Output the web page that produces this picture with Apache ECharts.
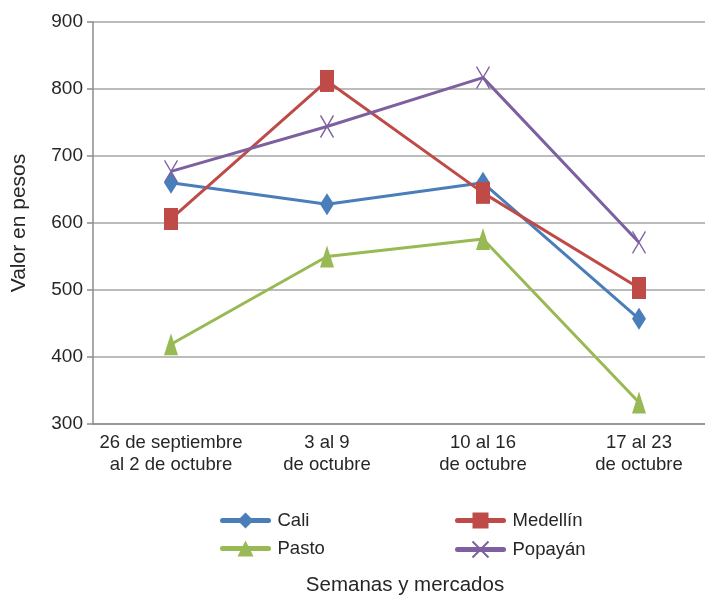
<!DOCTYPE html>
<html>
<head>
<meta charset="utf-8">
<script src="https://cdn.jsdelivr.net/npm/echarts@6/dist/echarts.min.js"></script>
<style>html,body{margin:0;padding:0;background:#fff}#c{width:705px;height:595px}</style>
</head>
<body>
<div id="c"></div>
<script>
var categories = ['26 de septiembre\nal 2 de octubre', '3 al 9\nde octubre', '10 al 16\nde octubre', '17 al 23\nde octubre'];
var cali = [660, 628, 660, 457];
var medellin = [606, 812, 645, 503];
var pasto = [419, 550, 576, 332];
var popayan = [677, 744, 817, 571];
var yTicks = {min: 300, max: 900, step: 100};

var font = 'Liberation Sans, Arial, sans-serif';
var txt = '#262626';
var grey = '#8c8c8c';
var xPath = 'path://M0,0L10,20M10,0L0,20';

function mk(name, data, color, symbol, size, extra) {
  var s = {
    name: name, type: 'line', data: data, symbol: symbol, symbolSize: size,
    lineStyle: {color: color, width: 3}, itemStyle: {color: color},
    animation: false, z: 3
  };
  if (extra) for (var k in extra) s[k] = extra[k];
  return s;
}

var legendText = {color: txt, fontFamily: font, fontSize: 18.5, padding: [0, 0, 0, 4]};

var chart = echarts.init(document.getElementById('c'));
chart.setOption({
  animation: false,
  grid: {left: 93, top: 22, width: 624, height: 402, outerBoundsMode: 'none', containLabel: false},
  xAxis: {
    type: 'category', data: categories, boundaryGap: true,
    axisLine: {lineStyle: {color: grey, width: 1.5}},
    axisTick: {show: false},
    axisLabel: {interval: 0, color: txt, fontFamily: font, fontSize: 18.5, lineHeight: 22, margin: 8},
    name: 'Semanas y mercados', nameLocation: 'middle', nameGap: 151,
    nameTextStyle: {color: txt, fontFamily: font, fontSize: 20.5}
  },
  yAxis: {
    type: 'value', min: yTicks.min, max: yTicks.max, interval: yTicks.step,
    axisLine: {show: true, lineStyle: {color: grey, width: 1.5}},
    axisTick: {show: true, length: 6, lineStyle: {color: grey, width: 1.5}},
    splitLine: {lineStyle: {color: '#a6a6a6', width: 1.5}},
    axisLabel: {color: txt, fontFamily: font, fontSize: 19, margin: 10},
    name: 'Valor en pesos', nameLocation: 'middle', nameGap: 63,
    nameTextStyle: {color: txt, fontFamily: font, fontSize: 21}
  },
  legend: [
    {data: ['Cali', 'Pasto'], orient: 'vertical', left: 215, top: 506, itemWidth: 46, itemHeight: 20, itemGap: 9,
     lineStyle: {width: 5, cap: 'round'}, textStyle: legendText},
    {data: ['Medellín', 'Popayán'], orient: 'vertical', left: 450, top: 506, itemWidth: 46, itemHeight: 20, itemGap: 9,
     lineStyle: {width: 5, cap: 'round'}, textStyle: legendText}
  ],
  series: [
    mk('Cali', cali, '#4a7ebb', 'diamond', [14, 22]),
    mk('Medellín', medellin, '#be4b48', 'rect', [14, 22]),
    mk('Pasto', pasto, '#98b954', 'triangle', [14, 22]),
    mk('Popayán', popayan, '#7d60a0', xPath, [13, 22], {itemStyle: {color: 'none', borderColor: '#7d60a0', borderWidth: 1.5}})
  ]
});
</script>
</body>
</html>
